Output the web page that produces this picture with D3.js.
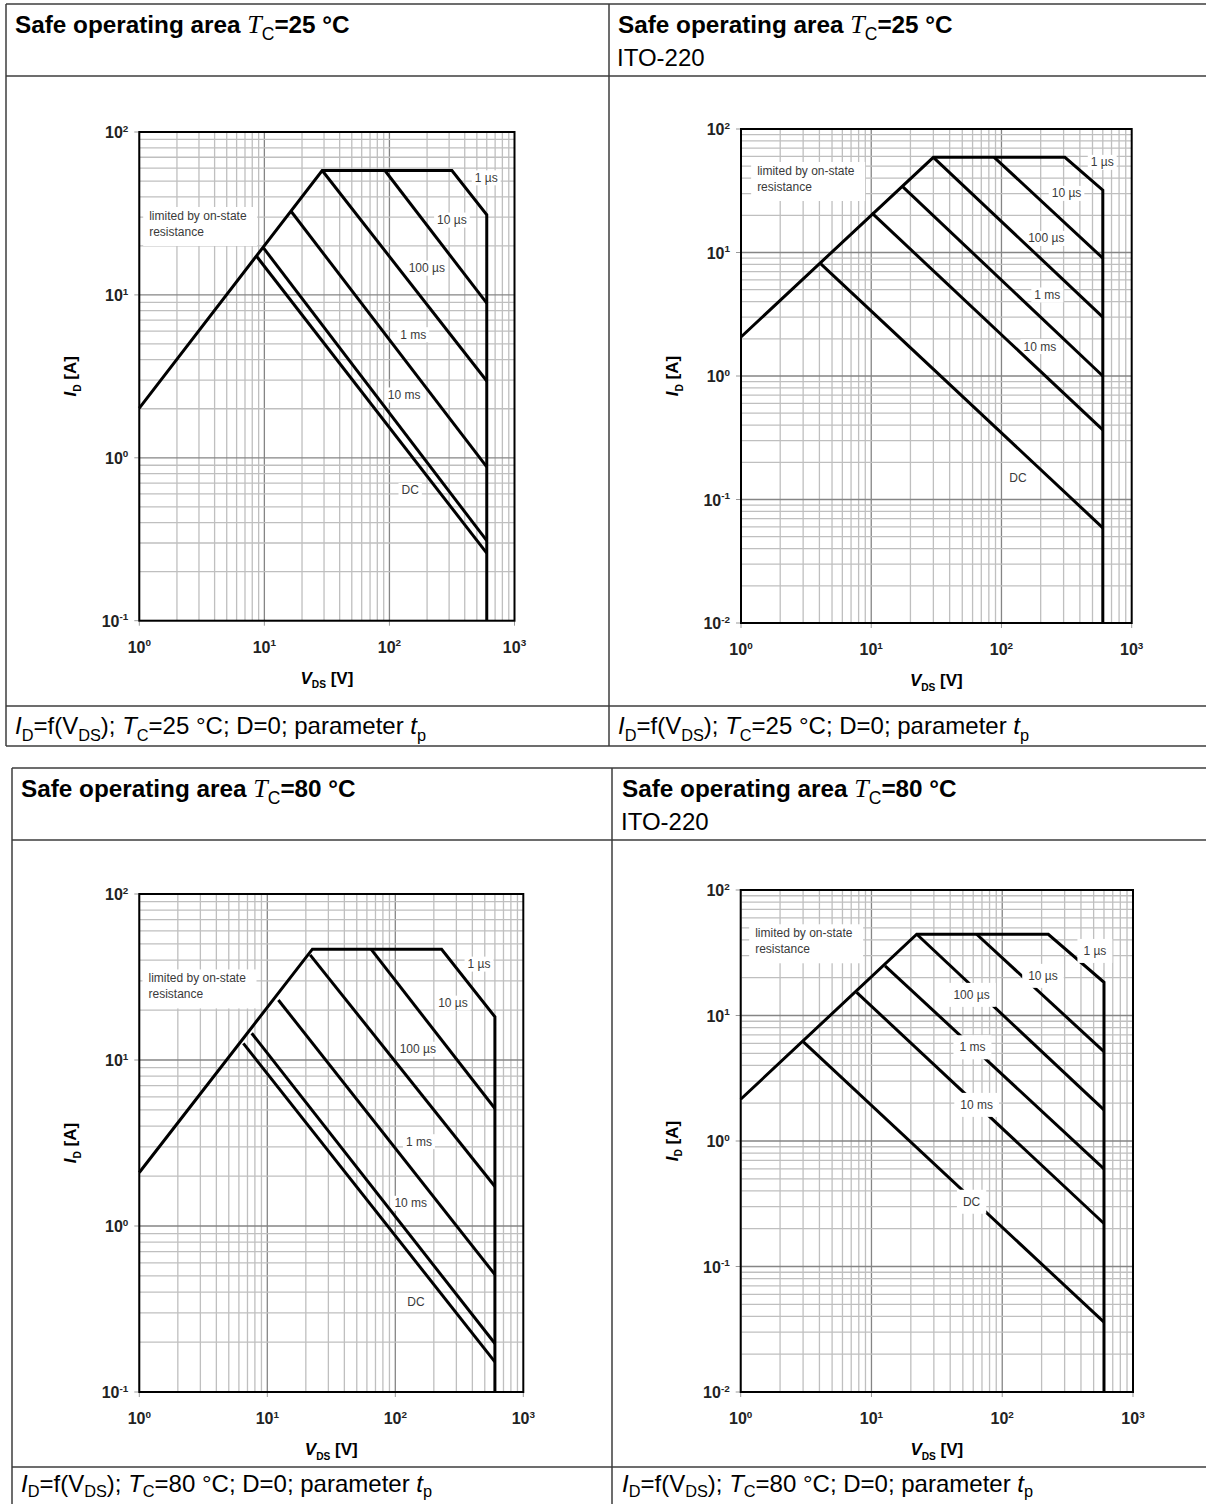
<!DOCTYPE html>
<html>
<head>
<meta charset="utf-8">
<script src="https://cdn.jsdelivr.net/npm/d3@7"></script>
<style>
  body { margin: 0; background: #fff; }
  svg { display: block; }
  text { font-family: "Liberation Sans", Arial, sans-serif; white-space: pre; }
</style>
</head>
<body>
<svg id="soa"></svg>
<script>
// curve names, same order in every chart (first one is the envelope incl. R_DS(on) limit)
const pulseLabels = ["1 µs", "10 µs", "100 µs", "1 ms", "10 ms", "DC"];

// TO-220, Tc = 25 °C  -> [V_DS, I_D]
const curves25 = [
  [[1, 2.02], [29, 58], [316, 58], [600, 31], [600, 0.1]],
  [[92, 58], [600, 8.9]],
  [[29, 58], [600, 2.96]],
  [[16.4, 32.5], [600, 0.88]],
  [[9.8, 19.5], [600, 0.31]],
  [[8.6, 17.4], [600, 0.26]]
];
const labelPos25 = [[594, 52.3], [316, 28.8], [199, 14.6], [155, 5.7], [131, 2.43], [146.5, 0.63]];
const rdsPos25 = [1.2, 30.5];

// ITO-220, Tc = 25 °C
const curves25ITO = [
  [[1, 2.07], [30, 59], [307, 59], [600, 32], [600, 0.01]],
  [[88, 59], [600, 9.0]],
  [[30, 59], [600, 3.0]],
  [[17.5, 34], [600, 1.0]],
  [[10.1, 20.9], [600, 0.366]],
  [[4.1, 8.1], [600, 0.059]]
];
const labelPos25ITO = [[594, 53.7], [316, 30.1], [221, 13.0], [225, 4.53], [197, 1.73], [134, 0.149]];
const rdsPos25ITO = [1.33, 45.7];

// TO-220, Tc = 80 °C
const curves80 = [
  [[1, 2.1], [22.5, 46.5], [230, 46.5], [600, 18.2], [600, 0.1]],
  [[64.6, 46.5], [600, 5.1]],
  [[21.6, 43], [600, 1.73]],
  [[12.2, 23], [600, 0.51]],
  [[7.55, 14.5], [600, 0.196]],
  [[6.5, 12.6], [600, 0.152]]
];
const labelPos80 = [[451, 37.8], [282, 22.0], [150, 11.6], [153, 3.22], [132, 1.37], [145, 0.35]];
const rdsPos80 = [1.18, 31.0];

// ITO-220, Tc = 80 °C
const curves80ITO = [
  [[1, 2.15], [22.2, 44.4], [225, 44.4], [600, 18.4], [600, 0.01]],
  [[63.7, 44.4], [600, 5.15]],
  [[22.2, 44.4], [600, 1.77]],
  [[12.7, 24.9], [600, 0.6]],
  [[7.7, 15.3], [600, 0.22]],
  [[3.0, 6.2], [600, 0.036]]
];
const labelPos80ITO = [[511, 32.7], [205, 20.7], [58.3, 14.6], [59.2, 5.58], [63.7, 1.94], [58.3, 0.328]];
const rdsPos80ITO = [1.29, 45.2];

// tick exponents
const xExponents = [0, 1, 2, 3];
const yExponentsTO = [-1, 0, 1, 2];
const yExponentsITO = [-2, -1, 0, 1, 2];

// header / caption text
const temps = ["25", "25", "80", "80"];
const packages = ["", "ITO-220", "", "ITO-220"];
const rdsText = ["limited by on-state", "resistance"];

let SVG = d3.select('svg#soa')
            .attr('width', 1206)
            .attr('height', 1504);

// helper for text with italic / sub / sup pieces
function addRich(sel, x, y, parts, size, weight, subShift = 0.28) {
  let t = sel.append('text')
             .attr('x', x)
             .attr('y', y)
             .style('font-size', size + 'px')
             .style('font-weight', weight)
             .style('fill', '#000');
  let shift = 0;
  parts.forEach(p => {
    let target = p.sub ? size * subShift : (p.sup ? -size * 0.4 : 0);
    let ts = t.append('tspan').text(p.t).attr('dy', target - shift);
    shift = target;
    if (p.sub || p.sup) ts.style('font-size', (size * (p.scale || 0.68)) + 'px');
    if (p.italic) ts.style('font-style', 'italic');
    if (p.serif) ts.style('font-family', '"Liberation Serif", "Times New Roman", serif');
    if (p.weight) ts.style('font-weight', p.weight);
    if (p.size) ts.style('font-size', p.size + 'px');
  });
  return t;
}

// table frames
function tableLines(x0, x1, x2, ys, yEnd) {
  let g = SVG.append('g').attr('class', 'table')
             .style('stroke', '#3c3c3c').style('stroke-width', 1.5);
  ys.forEach(yy => {
    g.append('line').attr('x1', x0).attr('x2', x2).attr('y1', yy).attr('y2', yy);
  });
  [x0, x1].forEach(xx => {
    g.append('line').attr('x1', xx).attr('x2', xx).attr('y1', ys[0]).attr('y2', yEnd);
  });
}
tableLines(6, 609, 1206, [4, 76, 706, 746], 746);
tableLines(12, 612, 1206, [768, 840, 1467], 1504);

// panel layout
let panels = [
  {curves: curves25, labels: labelPos25, rds: rdsPos25, yExp: yExponentsTO,
   left: 139.3, right: 514.5, top: 132, bottom: 620.7,
   headX: 15, headY: 33, capY: 734, subShift: 0.28, boxOnTop: false, boxH: 15, boxPad: 3},
  {curves: curves25ITO, labels: labelPos25ITO, rds: rdsPos25ITO, yExp: yExponentsITO,
   left: 741, right: 1131.7, top: 129, bottom: 623,
   headX: 618, headY: 33, capY: 734, subShift: 0.28, boxOnTop: false, boxH: 15, boxPad: 3},
  {curves: curves80, labels: labelPos80, rds: rdsPos80, yExp: yExponentsTO,
   left: 139.3, right: 523.3, top: 894, bottom: 1392,
   headX: 21, headY: 797, capY: 1492, subShift: 0.2, boxOnTop: false, boxH: 15, boxPad: 3},
  {curves: curves80ITO, labels: labelPos80ITO, rds: rdsPos80ITO, yExp: yExponentsITO,
   left: 740.7, right: 1133, top: 890, bottom: 1392,
   headX: 622, headY: 797, capY: 1492, subShift: 0.2, boxOnTop: true, boxH: 24, boxPad: 6}
];

panels.forEach((p, i) => drawPanel(p, i));

function drawPanel(p, i) {
  let x = d3.scaleLog().domain([1, 1000]).range([p.left, p.right]);
  let y = d3.scaleLog()
            .domain([Math.pow(10, p.yExp[0]), Math.pow(10, p.yExp[p.yExp.length - 1])])
            .range([p.bottom, p.top]);

  let g = SVG.append('g').attr('class', 'panel');

  // header
  addRich(g, p.headX, p.headY, [
    {t: 'Safe operating area '},
    {t: 'T', italic: true, serif: true, weight: 'normal', size: 26},
    {t: 'C', sub: true, weight: 'normal', scale: 0.72},
    {t: '=' + temps[i] + ' °C'}
  ], 24.3, 'bold');
  if (packages[i]) {
    g.append('text').attr('x', p.headX - 1).attr('y', p.headY + 33)
     .style('font-size', '24px').text(packages[i]);
  }

  // caption
  addRich(g, p.headX, p.capY, [
    {t: 'I', italic: true}, {t: 'D', sub: true},
    {t: '=f(V'}, {t: 'DS', sub: true},
    {t: '); '}, {t: 'T', italic: true}, {t: 'C', sub: true},
    {t: '=' + temps[i] + ' °C; D=0; parameter '},
    {t: 't', italic: true}, {t: 'p', sub: true}
  ], 24, 'normal', p.subShift);

  // grid
  let grid = g.append('g').attr('class', 'grid');
  let xVals = [];
  for (let d = 0; d < 3; d++) for (let k = 1; k <= 9; k++) xVals.push(k * Math.pow(10, d));
  let yVals = [];
  for (let d = p.yExp[0]; d < p.yExp[p.yExp.length - 1]; d++) {
    for (let k = 1; k <= 9; k++) yVals.push(k * Math.pow(10, d));
  }
  grid.selectAll('line.vx')
      .data(xVals)
      .enter()
      .append('line')
      .attr('x1', d => x(d)).attr('x2', d => x(d))
      .attr('y1', p.top).attr('y2', p.bottom)
      .style('stroke', (d, j) => j % 9 === 0 ? '#858585' : '#bfbfbf')
      .style('stroke-width', 1.3);
  grid.selectAll('line.hy')
      .data(yVals)
      .enter()
      .append('line')
      .attr('y1', d => y(d)).attr('y2', d => y(d))
      .attr('x1', p.left).attr('x2', p.right)
      .style('stroke', (d, j) => j % 9 === 0 ? '#858585' : '#bfbfbf')
      .style('stroke-width', 1.3);

  // small ticks outside
  grid.selectAll('line.ty')
      .data(p.yExp)
      .enter()
      .append('line')
      .attr('x1', p.left - 5).attr('x2', p.left)
      .attr('y1', d => y(Math.pow(10, d))).attr('y2', d => y(Math.pow(10, d)))
      .style('stroke', '#999');
  grid.selectAll('line.tx')
      .data(xExponents)
      .enter()
      .append('line')
      .attr('y1', p.bottom).attr('y2', p.bottom + 5)
      .attr('x1', d => x(Math.pow(10, d))).attr('x2', d => x(Math.pow(10, d)))
      .style('stroke', '#999');

  // tick labels
  p.yExp.forEach(e => {
    addRich(g, p.left - 11, y(Math.pow(10, e)) + 6, [
      {t: '10'}, {t: String(e), sup: true, scale: 0.62}
    ], 16, 'bold').style('text-anchor', 'end').style('fill', '#222');
  });
  xExponents.forEach(e => {
    addRich(g, x(Math.pow(10, e)), p.bottom + 32, [
      {t: '10'}, {t: String(e), sup: true, scale: 0.62}
    ], 16, 'bold').style('text-anchor', 'middle').style('fill', '#222');
  });

  // axis titles
  let midY = (p.top + p.bottom) / 2;
  addRich(g, 0, 0, [
    {t: 'I', italic: true}, {t: 'D', sub: true, scale: 0.6}, {t: ' [A]'}
  ], 17, 'bold')
    .attr('transform', `translate(${p.left - 63}, ${midY}) rotate(-90)`)
    .style('text-anchor', 'middle');
  addRich(g, (p.left + p.right) / 2, p.bottom + 63, [
    {t: 'V', italic: true}, {t: 'DS', sub: true, scale: 0.6}, {t: ' [V]'}
  ], 17, 'bold').style('text-anchor', 'middle');

  // on-state resistance note
  let note = g.append('g').attr('class', 'rdsNote');
  let nx = x(p.rds[0]), ny = y(p.rds[1]);
  note.append('rect')
      .attr('x', nx - 6).attr('y', ny - 9)
      .attr('width', 114).attr('height', 39)
      .style('fill', '#fff');
  rdsText.forEach((t, j) => {
    note.append('text')
        .attr('x', nx).attr('y', ny + 4 + j * 16)
        .style('font-size', '12px')
        .style('fill', '#3a3a3a')
        .text(t);
  });

  // curve labels
  function drawLabels() {
    let lg = g.append('g').attr('class', 'curveLabels');
    pulseLabels.forEach((lab, j) => {
      let cx = x(p.labels[j][0]), cy = y(p.labels[j][1]);
      let r = lg.append('rect').style('fill', '#fff');
      let t = lg.append('text')
                .attr('x', cx).attr('y', cy + 4)
                .style('text-anchor', 'middle')
                .style('font-size', '12px')
                .style('fill', '#3a3a3a')
                .text(lab);
      let w = t.node().getComputedTextLength();
      r.attr('x', cx - w / 2 - p.boxPad).attr('y', cy - p.boxH / 2)
       .attr('width', w + 2 * p.boxPad).attr('height', p.boxH);
    });
  }

  if (!p.boxOnTop) drawLabels();

  // curves
  let line = d3.line().x(d => x(d[0])).y(d => y(d[1]));
  g.append('g').attr('class', 'curves')
   .selectAll('path')
   .data(p.curves)
   .enter()
   .append('path')
   .attr('d', line)
   .style('fill', 'none')
   .style('stroke', '#000')
   .style('stroke-width', 3)
   .style('stroke-linejoin', 'miter');

  if (p.boxOnTop) drawLabels();

  // plot frame
  g.append('rect')
   .attr('x', p.left).attr('y', p.top)
   .attr('width', p.right - p.left).attr('height', p.bottom - p.top)
   .style('fill', 'none')
   .style('stroke', '#000')
   .style('stroke-width', 2);
}
</script>
</body>
</html>
